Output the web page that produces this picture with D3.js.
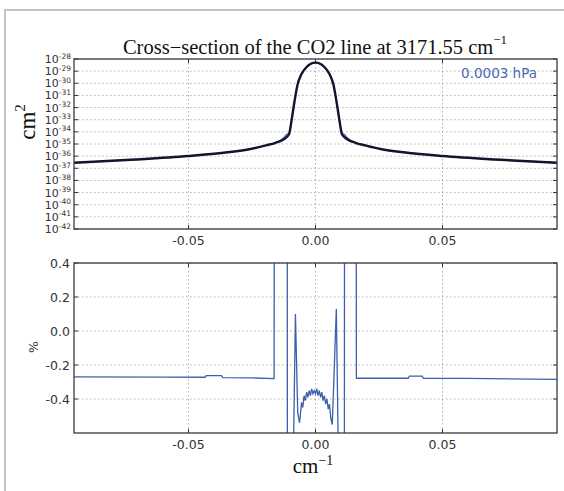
<!DOCTYPE html>
<meta charset="utf-8">
<head>
  <title>CO2 line cross-section</title>
  <script src="https://d3js.org/d3.v7.min.js"></script>
  <style>
    body { margin: 0; background: #fff; }
    svg { display: block; }
    .tick-label { font-family: "DejaVu Sans", sans-serif; font-size: 12.5px; fill: #333; }
    .ylog-label { font-family: "DejaVu Sans", sans-serif; font-size: 11px; fill: #333; }
    .grid { stroke: #999; stroke-width: 0.8; stroke-dasharray: 1.5,2.5; }
    .frame { fill: none; stroke: #3a3a3a; stroke-width: 1.3; }
    .serif { font-family: "Liberation Serif", "DejaVu Serif", serif; fill: #111; }
  </style>
</head>
<body>
<script>
  // tick values and labels
  var xTicks = [-0.05, 0, 0.05];
  var xTickLabels = ["-0.05", "0.00", "0.05"];
  var expTicks = [-42, -41, -40, -39, -38, -37, -36, -35, -34, -33, -32, -31, -30, -29, -28];
  var pctTicks = [-0.4, -0.2, 0, 0.2, 0.4];
  var pctTickLabels = ["-0.4", "-0.2", "0.0", "0.2", "0.4"];

  // cross-section, log10(cm^2)
  var waveX = [-0.095, -0.0709, -0.05, -0.0354, -0.0256, -0.0197, -0.0157, -0.0126, -0.0114, -0.0104,
    -0.0094, -0.0083, -0.0071, -0.0055, -0.0035, -0.002, 0, 0.002, 0.0035, 0.0055, 0.0071, 0.0083,
    0.0094, 0.0104, 0.0114, 0.0126, 0.0157, 0.0197, 0.0256, 0.0354, 0.05, 0.0709, 0.095];
  var sigmaBlack = [-36.54, -36.28, -35.99, -35.70, -35.41, -35.12, -34.90, -34.63, -34.43, -34.18,
    -33.02, -31.54, -30.14, -29.24, -28.66, -28.41, -28.30, -28.41, -28.66, -29.24, -30.14, -31.54,
    -33.02, -34.18, -34.43, -34.63, -34.90, -35.12, -35.41, -35.70, -35.99, -36.28, -36.54];
  var sigmaBlue = [-36.54, -36.28, -35.99, -35.70, -35.41, -35.12, -34.88, -34.50, -34.22, -34.10,
    -33.02, -31.54, -30.14, -29.24, -28.66, -28.41, -28.30, -28.41, -28.66, -29.24, -30.14, -31.54,
    -33.02, -34.10, -34.22, -34.50, -34.88, -35.12, -35.41, -35.70, -35.99, -36.28, -36.54];

  // relative difference, %
  var diffX = [-0.095, -0.06, -0.0435, -0.0430, -0.0370, -0.0365, -0.025, -0.0163, -0.0161, -0.0112,
    -0.0110, -0.0086, -0.0079, -0.0070, -0.0063,
    -0.0060, -0.0055, -0.0050, -0.0045, -0.0040, -0.0035, -0.0030, -0.0025, -0.0020, -0.0015, -0.0010,
    -0.0005, 0, 0.0005, 0.0010, 0.0015, 0.0020, 0.0025, 0.0030, 0.0035, 0.0040, 0.0045, 0.0050, 0.0055,
    0.0060, 0.0066, 0.0072, 0.0082, 0.0089, 0.0113, 0.0115, 0.0159, 0.0161, 0.030, 0.0365, 0.0370,
    0.0420, 0.0425, 0.06, 0.095];
  var diffPct = [-0.270, -0.271, -0.272, -0.262, -0.262, -0.274, -0.276, -0.280, 3, 3,
    -3, -0.62, 0.10, -0.48, -0.54,
    -0.50, -0.42, -0.45, -0.38, -0.41, -0.36, -0.39, -0.35, -0.38, -0.34, -0.37,
    -0.35, -0.37, -0.34, -0.38, -0.35, -0.39, -0.36, -0.41, -0.38, -0.43, -0.40, -0.46, -0.43,
    -0.51, -0.55, -0.30, 0.13, -0.62, -3, 3, 3, -0.278, -0.278, -0.278, -0.265,
    -0.265, -0.278, -0.279, -0.284];

  var width = 564, height = 491;
  var left = 74, right = 557;
  var top1 = 59, bot1 = 229, top2 = 263, bot2 = 433;

  var svg = d3.select("body").append("svg")
    .attr("width", width)
    .attr("height", height);

  // light grey page frame
  svg.append("path")
    .attr("d", "M5," + height + "V10H" + width)
    .attr("fill", "none")
    .attr("stroke", "#c4c4c4")
    .attr("stroke-width", 2);

  var x = d3.scaleLinear().domain([-0.0951, 0.0951]).range([left, right]);
  var y1 = d3.scaleLog().domain([1e-42, 1e-28]).range([bot1, top1]);
  var y2 = d3.scaleLinear().domain([-0.6, 0.4]).range([bot2, top2]);

  function panel(id, yTop, yBot, yVals, yScale) {
    var g = svg.append("g");
    g.append("clipPath").attr("id", id)
      .append("rect").attr("x", left).attr("y", yTop)
      .attr("width", right - left).attr("height", yBot - yTop);
    // grid
    g.selectAll(".vg").data(xTicks).enter().append("line")
      .attr("class", "grid")
      .attr("x1", function(d) { return x(d); }).attr("x2", function(d) { return x(d); })
      .attr("y1", yTop).attr("y2", yBot);
    g.selectAll(".hg").data(yVals).enter().append("line")
      .attr("class", "grid")
      .attr("x1", left).attr("x2", right)
      .attr("y1", function(d) { return yScale(d); }).attr("y2", function(d) { return yScale(d); });
    // inner ticks
    xTicks.forEach(function(d) {
      g.append("line").attr("x1", x(d)).attr("x2", x(d)).attr("y1", yBot).attr("y2", yBot - 4).attr("stroke", "#333");
      g.append("line").attr("x1", x(d)).attr("x2", x(d)).attr("y1", yTop).attr("y2", yTop + 4).attr("stroke", "#333");
    });
    yVals.forEach(function(d) {
      g.append("line").attr("x1", left).attr("x2", left + 4).attr("y1", yScale(d)).attr("y2", yScale(d)).attr("stroke", "#333");
      g.append("line").attr("x1", right).attr("x2", right - 4).attr("y1", yScale(d)).attr("y2", yScale(d)).attr("stroke", "#333");
    });
    // x tick labels
    g.selectAll(".xl").data(xTicks).enter().append("text")
      .attr("class", "tick-label")
      .attr("x", function(d) { return x(d); })
      .attr("y", yBot + 16)
      .attr("text-anchor", "middle")
      .text(function(d, i) { return xTickLabels[i]; });
    return g;
  }

  // ---- top panel
  var g1 = panel("clip1", top1, bot1, expTicks.map(function(e) { return Math.pow(10, e); }), y1);

  var labels1 = g1.selectAll(".yl").data(expTicks).enter().append("text")
    .attr("class", "ylog-label")
    .attr("x", left - 3)
    .attr("y", function(d) { return y1(Math.pow(10, d)) + 4; })
    .attr("text-anchor", "end");
  labels1.append("tspan").text("10");
  labels1.append("tspan").attr("dy", -4.5).style("font-size", "7.5px").text(function(d) { return d; });

  var line1 = d3.line()
    .x(function(d, i) { return x(waveX[i]); })
    .y(function(d) { return y1(Math.pow(10, d)); })
    .curve(d3.curveMonotoneX);

  g1.append("path").datum(sigmaBlue)
    .attr("clip-path", "url(#clip1)")
    .attr("fill", "none").attr("stroke", "#4466b3").attr("stroke-width", 1.2)
    .attr("d", line1);
  g1.append("path").datum(sigmaBlack)
    .attr("clip-path", "url(#clip1)")
    .attr("fill", "none").attr("stroke", "#14142c").attr("stroke-width", 2.4)
    .attr("d", line1);

  g1.append("rect").attr("class", "frame")
    .attr("x", left).attr("y", top1).attr("width", right - left).attr("height", bot1 - top1);

  g1.append("text")
    .attr("x", 537).attr("y", 78)
    .attr("text-anchor", "end")
    .style("font-family", "DejaVu Sans, sans-serif")
    .style("font-size", "13.5px")
    .style("fill", "#4a68b0")
    .text("0.0003 hPa");

  // title
  var title = svg.append("text").attr("class", "serif")
    .attr("x", 315).attr("y", 54)
    .attr("text-anchor", "middle")
    .style("font-size", "20.5px");
  title.append("tspan").text("Cross\u2212section of the CO2 line at 3171.55 cm");
  title.append("tspan").attr("dy", -10).style("font-size", "13px").text("\u22121");

  // y label top
  var yl = svg.append("text").attr("class", "serif")
    .attr("transform", "translate(35,122) rotate(-90)")
    .attr("text-anchor", "middle")
    .style("font-size", "23px");
  yl.append("tspan").text("cm");
  yl.append("tspan").attr("dy", -10).style("font-size", "15px").text("2");

  // ---- bottom panel
  var g2 = panel("clip2", top2, bot2, pctTicks, y2);

  g2.selectAll(".yl").data(pctTicks).enter().append("text")
    .attr("class", "tick-label")
    .attr("x", left - 4)
    .attr("y", function(d) { return y2(d) + 4.5; })
    .attr("text-anchor", "end")
    .text(function(d, i) { return pctTickLabels[i]; });

  var line2 = d3.line()
    .x(function(d, i) { return x(diffX[i]); })
    .y(function(d) { return y2(d); });

  g2.append("path").datum(diffPct)
    .attr("clip-path", "url(#clip2)")
    .attr("fill", "none").attr("stroke", "#3d60aa").attr("stroke-width", 1.3)
    .attr("d", line2);

  g2.append("rect").attr("class", "frame")
    .attr("x", left).attr("y", top2).attr("width", right - left).attr("height", bot2 - top2);

  svg.append("text")
    .attr("transform", "translate(38,347) rotate(-90)")
    .attr("text-anchor", "middle")
    .style("font-family", "DejaVu Sans, sans-serif")
    .style("font-size", "12.5px")
    .style("fill", "#333")
    .text("%");

  var xl = svg.append("text").attr("class", "serif")
    .attr("x", 313).attr("y", 473)
    .attr("text-anchor", "middle")
    .style("font-size", "21px");
  xl.append("tspan").text("cm");
  xl.append("tspan").attr("dy", -8).style("font-size", "14px").text("\u22121");
</script>
</body>
</html>
